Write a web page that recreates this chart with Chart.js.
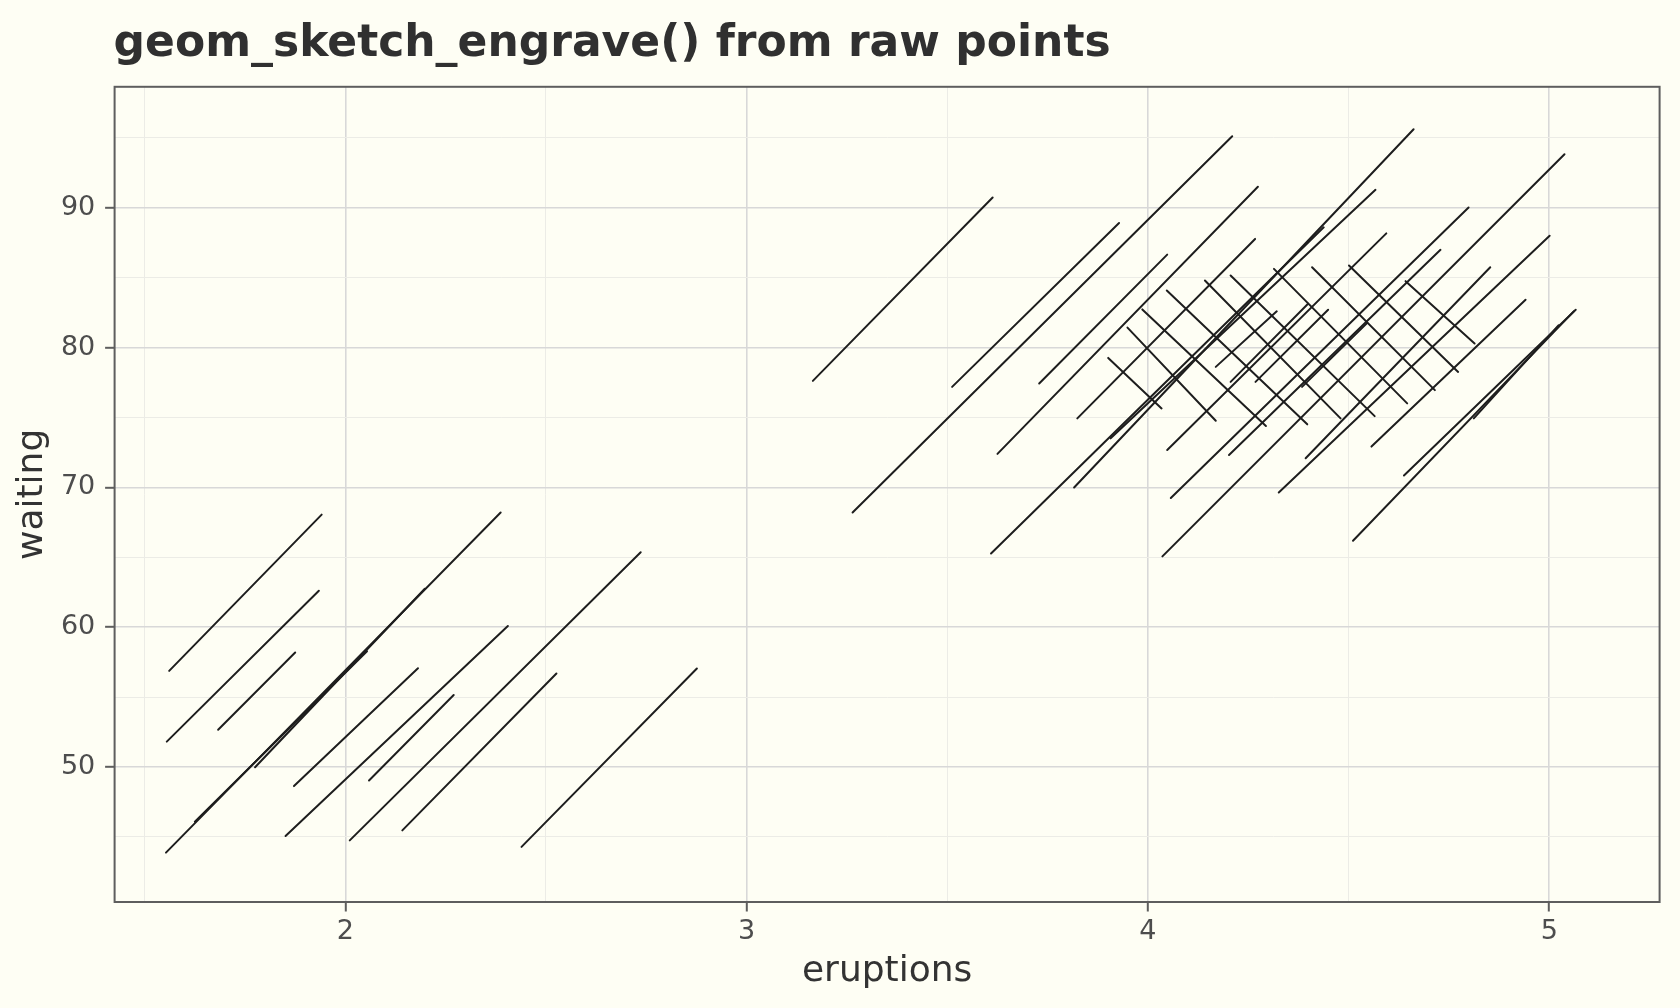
<!DOCTYPE html>
<html>
<head>
<meta charset="utf-8">
<script src="https://cdn.jsdelivr.net/npm/chart.js@4.4.1/dist/chart.umd.min.js"></script>
<style>
  html, body { margin: 0; padding: 0; background: #FEFEF4; }
  #wrap { width: 1680px; height: 1008px; position: relative; }
  canvas { display: block; }
</style>
</head>
<body>
<div id="wrap"><canvas id="c" width="1680" height="1008"></canvas></div>
<script>
// ---- text ----
const chartTitle = 'geom_sketch_engrave() from raw points';
const xTitle = 'eruptions';
const yTitle = 'waiting';

// ---- axes ----
const xRange = [1.425, 5.275];
const yRange = [40.35, 98.65];
const xMajorTicks = [2, 3, 4, 5];
const xMinorTicks = [1.5, 2.5, 3.5, 4.5];
const yMajorTicks = [50, 60, 70, 80, 90];
const yMinorTicks = [45, 55, 65, 75, 85, 95];

// ---- engraved strokes, points as [eruptions, waiting] ----
const shortEruptionStrokes = [
  [[1.561, 56.88], [1.941, 68.05]],
  [[1.555, 51.82], [1.934, 62.61]],
  [[1.683, 52.67], [1.875, 58.19]],
  [[1.553, 43.88], [2.387, 68.21]],
  [[1.625, 46.09], [2.054, 58.28]],
  [[1.775, 49.99], [2.198, 62.75]],
  [[1.872, 48.64], [2.181, 57.07]],
  [[1.851, 45.07], [2.405, 60.09]],
  [[2.059, 49.04], [2.270, 55.15]],
  [[2.011, 44.76], [2.736, 65.36]],
  [[2.142, 45.47], [2.526, 56.69]],
  [[2.439, 44.29], [2.876, 57.05]]
];

const longEruptionRisingStrokes = [
  [[3.165, 77.62], [3.613, 90.73]],
  [[3.264, 68.21], [4.210, 95.11]],
  [[3.512, 77.19], [3.928, 88.91]],
  [[3.729, 77.43], [4.048, 86.65]],
  [[3.824, 74.94], [4.267, 87.77]],
  [[3.625, 72.40], [4.274, 91.50]],
  [[3.609, 65.27], [4.438, 88.60]],
  [[4.169, 78.62], [4.321, 82.59]],
  [[4.206, 77.55], [4.399, 83.14]],
  [[4.268, 77.55], [4.449, 82.71]],
  [[4.384, 77.19], [4.546, 81.75]],
  [[3.816, 69.99], [4.662, 95.61]],
  [[3.907, 73.51], [4.567, 91.28]],
  [[4.036, 65.07], [5.038, 93.83]],
  [[4.057, 69.24], [4.799, 90.02]],
  [[4.048, 72.68], [4.594, 88.17]],
  [[4.202, 72.32], [4.729, 86.99]],
  [[4.326, 69.64], [5.001, 88.00]],
  [[4.393, 72.09], [4.853, 85.74]],
  [[4.557, 72.92], [4.941, 83.42]],
  [[4.638, 70.85], [5.066, 82.71]],
  [[4.511, 66.19], [5.061, 82.59]],
  [[4.812, 74.94], [5.023, 81.59]]
];

const longEruptionFallingStrokes = [
  [[3.901, 79.26], [4.034, 75.65]],
  [[3.949, 81.43], [4.169, 74.77]],
  [[3.986, 82.73], [4.294, 74.39]],
  [[4.047, 84.08], [4.397, 74.51]],
  [[4.142, 84.80], [4.480, 74.94]],
  [[4.206, 85.15], [4.565, 75.10]],
  [[4.314, 85.63], [4.646, 76.01]],
  [[4.409, 85.74], [4.715, 76.96]],
  [[4.501, 85.87], [4.773, 78.26]],
  [[4.642, 84.75], [4.814, 80.29]]
];

// ---- styling ----
const BG = '#FEFEF4';
const INK = '#1E1E1E';
const FRAME = '#5E5E5E';
const GRID_MAJOR = '#D8D8D8';
const GRID_MINOR = '#ECECE6';
const FONT = '"DejaVu Sans", "Liberation Sans", sans-serif';

Chart.defaults.font.family = FONT;

function strokeDataset(stroke) {
  return {
    data: stroke.map(p => ({ x: p[0], y: p[1] })),
    showLine: true,
    borderColor: INK,
    borderWidth: 2.0,
    pointRadius: 0,
    pointHoverRadius: 0,
    fill: false,
    tension: 0,
    borderCapStyle: 'round'
  };
}

const allStrokes = [].concat(shortEruptionStrokes, longEruptionRisingStrokes, longEruptionFallingStrokes);

const xAllTicks = xMajorTicks.concat(xMinorTicks).sort((a, b) => a - b);
const yAllTicks = yMajorTicks.concat(yMinorTicks).sort((a, b) => a - b);

const frameAndTitle = {
  id: 'frameAndTitle',
  beforeDraw(chart) {
    const { ctx, width, height } = chart;
    ctx.save();
    ctx.fillStyle = BG;
    ctx.fillRect(0, 0, width, height);
    ctx.restore();
  },
  afterDraw(chart) {
    const { ctx, chartArea: a } = chart;
    ctx.save();
    ctx.strokeStyle = FRAME;
    ctx.lineWidth = 2;
    ctx.strokeRect(a.left, a.top, a.right - a.left, a.bottom - a.top);
    ctx.fillStyle = '#303030';
    ctx.font = 'bold 44px ' + FONT;
    ctx.textAlign = 'left';
    ctx.textBaseline = 'alphabetic';
    ctx.fillText(chartTitle, a.left - 1, 56);
    ctx.restore();
  }
};

function gridStyle(majors) {
  return {
    color: c => (c.tick && majors.includes(c.tick.value)) ? GRID_MAJOR : GRID_MINOR,
    lineWidth: c => (c.tick && majors.includes(c.tick.value)) ? 1.6 : 1.0,
    tickColor: c => (c.tick && majors.includes(c.tick.value)) ? FRAME : 'rgba(0,0,0,0)',
    tickWidth: 2,
    tickLength: 9.5,
    drawTicks: true
  };
}

new Chart(document.getElementById('c'), {
  type: 'scatter',
  data: { datasets: allStrokes.map(strokeDataset) },
  options: {
    responsive: false,
    devicePixelRatio: 1,
    animation: false,
    events: [],
    layout: { padding: { top: 86.8, left: 0, right: 20.4, bottom: 0 } },
    plugins: { legend: { display: false }, tooltip: { enabled: false }, title: { display: false } },
    scales: {
      x: {
        type: 'linear',
        min: xRange[0], max: xRange[1],
        afterBuildTicks: s => { s.ticks = xAllTicks.map(v => ({ value: v })); },
        afterFit: s => { s.height = 106; },
        grid: gridStyle(xMajorTicks),
        border: { display: false },
        ticks: {
          autoSkip: false,
          maxRotation: 0,
          padding: 7,
          color: '#4D4D4D',
          font: { size: 27, lineHeight: 1 },
          callback: v => xMajorTicks.includes(v) ? String(v) : ''
        },
        title: {
          display: true, text: xTitle, color: '#333333',
          font: { size: 36, lineHeight: 1 },
          padding: { top: 0, bottom: 18 }
        }
      },
      y: {
        type: 'linear',
        min: yRange[0], max: yRange[1],
        afterBuildTicks: s => { s.ticks = yAllTicks.map(v => ({ value: v })); },
        afterFit: s => { s.width = 114.6; },
        grid: gridStyle(yMajorTicks),
        border: { display: false },
        ticks: {
          autoSkip: false,
          padding: 9.8,
          color: '#4D4D4D',
          font: { size: 27, lineHeight: 1 },
          callback: v => yMajorTicks.includes(v) ? String(v) : ''
        },
        title: {
          display: true, text: yTitle, color: '#333333',
          font: { size: 36, lineHeight: 1 },
          padding: { top: 14.5, bottom: 0 }
        }
      }
    }
  },
  plugins: [frameAndTitle]
});
</script>
</body>
</html>
